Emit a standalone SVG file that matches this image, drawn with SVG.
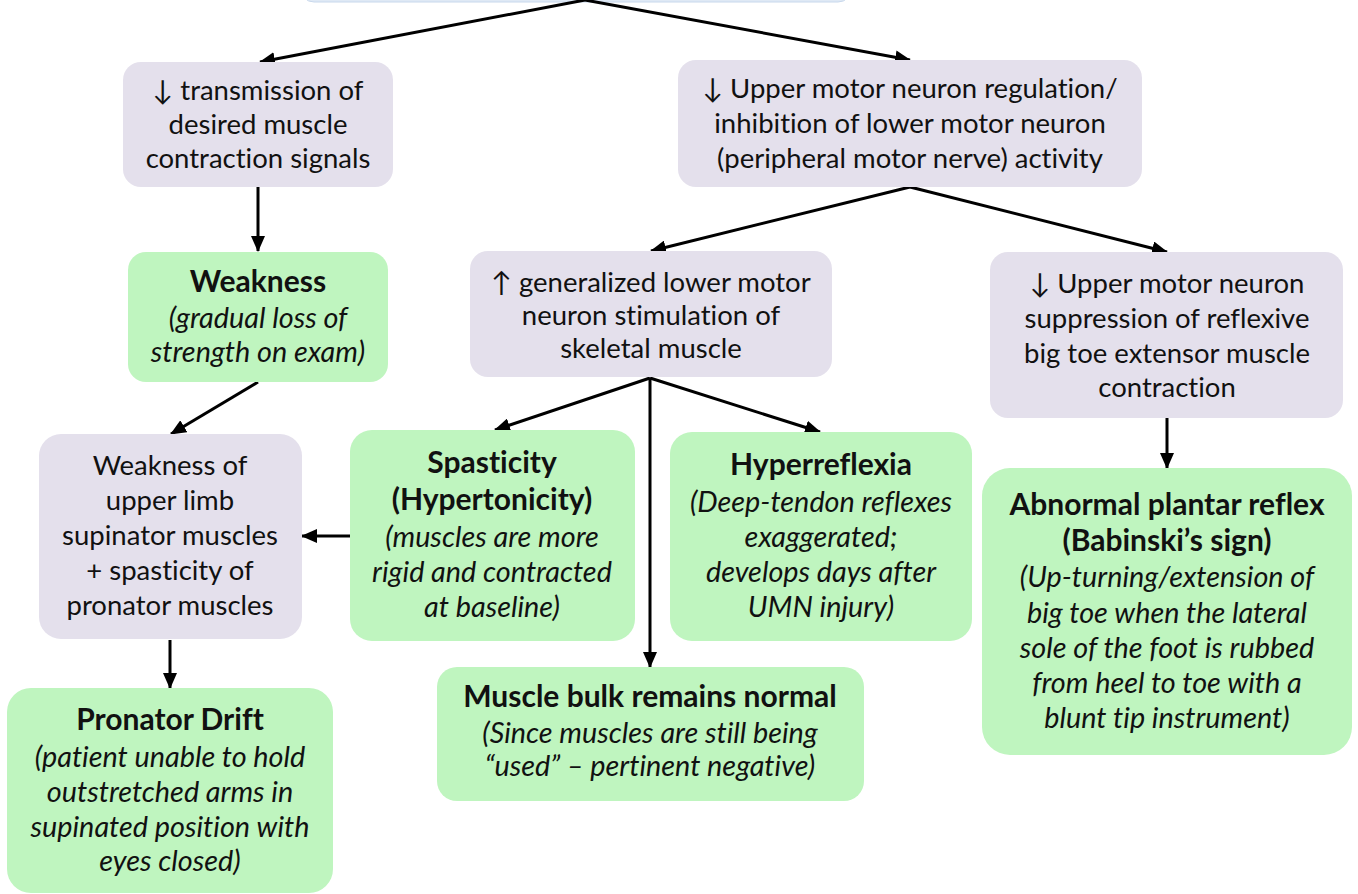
<svg xmlns="http://www.w3.org/2000/svg" width="1358" height="894" viewBox="0 0 1358 894">
<defs>
<style>
.p{fill:#e4e0ec}
.g{fill:#bff5bf}
.t{font-family:Lato,"Open Sans","DejaVu Sans",sans-serif;font-size:27.5px;fill:#111;text-anchor:middle;font-variant-ligatures:none}
.b{font-weight:bold;font-size:30px}
.i{font-style:italic;font-size:28.8px}
.c{stroke:#000;stroke-width:3;fill:none;marker-end:url(#ah)}
</style>
<marker id="ah" markerUnits="userSpaceOnUse" markerWidth="16" markerHeight="14" refX="15" refY="7" orient="auto">
<path d="M0,0 L16,7 L0,14 z" fill="#000"/>
</marker>
</defs>
<rect width="1358" height="894" fill="#fff"/>
<g id="top"><rect x="300" y="-40" width="552" height="42" rx="14" fill="#dfe9f5" stroke="#c8d8ec" stroke-width="1"/></g>
<g id="connectors">
<line class="c" x1="585" y1="0" x2="260" y2="62"/>
<line class="c" x1="585" y1="0" x2="910" y2="60"/>
<line class="c" x1="258" y1="187" x2="258" y2="251"/>
<line class="c" x1="910" y1="187" x2="651" y2="251"/>
<line class="c" x1="910" y1="187" x2="1167" y2="252"/>
<line class="c" x1="258" y1="382" x2="171" y2="434"/>
<line class="c" x1="650" y1="378" x2="495" y2="430"/>
<line class="c" x1="650" y1="378" x2="650" y2="667"/>
<line class="c" x1="650" y1="378" x2="820" y2="432"/>
<line class="c" x1="350" y1="536" x2="302" y2="536"/>
<line class="c" x1="170" y1="640" x2="170" y2="688"/>
<line class="c" x1="1167" y1="418" x2="1167" y2="468"/>
</g>
<g id="nodeA"><rect class="p" x="123" y="62" width="270" height="125" rx="18"/>
<text class="t"><tspan x="258" y="100">↓ transmission of</tspan><tspan x="258" y="134">desired muscle</tspan><tspan x="258" y="168">contraction signals</tspan></text></g>
<g id="nodeB"><rect class="p" x="678" y="60" width="464" height="127" rx="18"/>
<text class="t"><tspan x="910" y="98">↓ Upper motor neuron regulation/</tspan><tspan x="910" y="133">inhibition of lower motor neuron</tspan><tspan x="910" y="168">(peripheral motor nerve) activity</tspan></text></g>
<g id="weakness"><rect class="g" x="128" y="252" width="260" height="130" rx="18"/>
<text class="t"><tspan class="b" x="258" y="292">Weakness</tspan><tspan class="i" x="258" y="328">(gradual loss of</tspan><tspan class="i" x="258" y="362">strength on exam)</tspan></text></g>
<g id="nodeC"><rect class="p" x="470" y="251" width="362" height="126" rx="18"/>
<text class="t"><tspan x="651" y="292">↑ generalized lower motor</tspan><tspan x="651" y="325">neuron stimulation of</tspan><tspan x="651" y="358">skeletal muscle</tspan></text></g>
<g id="nodeD"><rect class="p" x="990" y="252" width="353" height="166" rx="18"/>
<text class="t"><tspan x="1167" y="293">↓ Upper motor neuron</tspan><tspan x="1167" y="328">suppression of reflexive</tspan><tspan x="1167" y="363">big toe extensor muscle</tspan><tspan x="1167" y="397">contraction</tspan></text></g>
<g id="nodeE"><rect class="p" x="39" y="434" width="263" height="205" rx="22"/>
<text class="t"><tspan x="170" y="475">Weakness of</tspan><tspan x="170" y="510">upper limb</tspan><tspan x="170" y="545">supinator muscles</tspan><tspan x="170" y="580">+ spasticity of</tspan><tspan x="170" y="615">pronator muscles</tspan></text></g>
<g id="spasticity"><rect class="g" x="350" y="430" width="285" height="211" rx="22"/>
<text class="t"><tspan class="b" x="492" y="473">Spasticity</tspan><tspan class="b" x="492" y="510">(Hypertonicity)</tspan><tspan class="i" x="492" y="547">(muscles are more</tspan><tspan class="i" x="492" y="582">rigid and contracted</tspan><tspan class="i" x="492" y="617">at baseline)</tspan></text></g>
<g id="hyperreflexia"><rect class="g" x="670" y="432" width="302" height="209" rx="22"/>
<text class="t"><tspan class="b" x="821" y="475">Hyperreflexia</tspan><tspan class="i" x="821" y="512">(Deep-tendon reflexes</tspan><tspan class="i" x="821" y="547">exaggerated;</tspan><tspan class="i" x="821" y="582">develops days after</tspan><tspan class="i" x="821" y="617">UMN injury)</tspan></text></g>
<g id="bulk"><rect class="g" x="437" y="667" width="427" height="134" rx="20"/>
<text class="t"><tspan class="b" x="650" y="707">Muscle bulk remains normal</tspan><tspan class="i" x="650" y="743">(Since muscles are still being</tspan><tspan class="i" x="650" y="776">“used” – pertinent negative)</tspan></text></g>
<g id="pronator"><rect class="g" x="7" y="688" width="326" height="205" rx="24"/>
<text class="t"><tspan class="b" x="170" y="730">Pronator Drift</tspan><tspan class="i" x="170" y="767">(patient unable to hold</tspan><tspan class="i" x="170" y="802">outstretched arms in</tspan><tspan class="i" x="170" y="837">supinated position with</tspan><tspan class="i" x="170" y="871">eyes closed)</tspan></text></g>
<g id="babinski"><rect class="g" x="982" y="468" width="370" height="287" rx="28"/>
<text class="t"><tspan class="b" x="1167" y="515">Abnormal plantar reflex</tspan><tspan class="b" x="1167" y="551">(Babinski’s sign)</tspan><tspan class="i" x="1167" y="587">(Up-turning/extension of</tspan><tspan class="i" x="1167" y="623">big toe when the lateral</tspan><tspan class="i" x="1167" y="658">sole of the foot is rubbed</tspan><tspan class="i" x="1167" y="693">from heel to toe with a</tspan><tspan class="i" x="1167" y="728">blunt tip instrument)</tspan></text></g>
</svg>
